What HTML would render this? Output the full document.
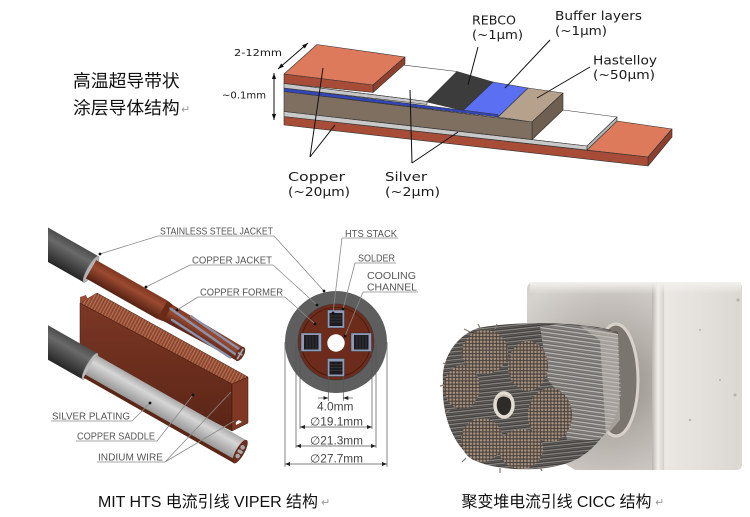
<!DOCTYPE html>
<html><head><meta charset="utf-8"><style>
html,body{margin:0;padding:0;background:#fff;}
svg{display:block}
</style></head><body>
<svg width="750" height="517" viewBox="0 0 750 517" xmlns="http://www.w3.org/2000/svg">
<defs>
 <marker id="ah" viewBox="0 0 10 10" refX="10" refY="5" markerWidth="5" markerHeight="5" orient="auto-start-reverse" markerUnits="userSpaceOnUse"><path d="M0,1 L10,5 L0,9z" fill="#222"/></marker>
 <marker id="ah2" viewBox="0 0 10 10" refX="10" refY="5" markerWidth="6" markerHeight="6" orient="auto-start-reverse" markerUnits="userSpaceOnUse"><path d="M0,1.5 L10,5 L0,8.5z" fill="#111"/></marker>
 <linearGradient id="jk" x1="0" y1="0" x2="0" y2="1"><stop offset="0" stop-color="#4c4c4c"/><stop offset="0.3" stop-color="#6a6a6a"/><stop offset="1" stop-color="#252525"/></linearGradient>
 <linearGradient id="cu" x1="0" y1="0" x2="0" y2="1"><stop offset="0" stop-color="#7e3620"/><stop offset="0.35" stop-color="#9a4a30"/><stop offset="1" stop-color="#552113"/></linearGradient>
 <linearGradient id="ag" x1="0" y1="0" x2="0" y2="1"><stop offset="0" stop-color="#a8a8a8"/><stop offset="0.3" stop-color="#d6d6d6"/><stop offset="1" stop-color="#8a8a8a"/></linearGradient>
 <linearGradient id="sf" x1="0" y1="0" x2="0" y2="1"><stop offset="0" stop-color="#7c3725"/><stop offset="1" stop-color="#5a2516"/></linearGradient>
 <pattern id="rib" width="3" height="3" patternUnits="userSpaceOnUse" patternTransform="rotate(28)"><rect width="3" height="3" fill="#8a4530"/><rect width="1.2" height="3" fill="#b5714f"/></pattern>
 <clipPath id="cl"><rect x="48" y="200" width="320" height="280"/></clipPath>
 <radialGradient id="endf" cx="610" cy="385" r="115" gradientUnits="userSpaceOnUse"><stop offset="0" stop-color="#8d8882"/><stop offset="0.45" stop-color="#b4afa9"/><stop offset="1" stop-color="#d6d2cd"/></radialGradient>
 <linearGradient id="sidef" x1="0" y1="0" x2="1" y2="0"><stop offset="0" stop-color="#d2cdc7"/><stop offset="0.12" stop-color="#ebe8e4"/><stop offset="1" stop-color="#dbd7d2"/></linearGradient>
 <linearGradient id="edg" x1="0" y1="0" x2="1" y2="0"><stop offset="0" stop-color="#b9b4ae"/><stop offset="0.5" stop-color="#f1eeea"/><stop offset="1" stop-color="#d3cfc9"/></linearGradient>
 <linearGradient id="topf" x1="0" y1="0" x2="0" y2="1"><stop offset="0" stop-color="#f3f1ee"/><stop offset="1" stop-color="#f3f1ee" stop-opacity="0"/></linearGradient>
 <pattern id="str" width="40" height="4" patternUnits="userSpaceOnUse" patternTransform="rotate(-6)"><rect width="40" height="4" fill="#3f3d3b"/><line x1="0" y1="1.2" x2="40" y2="1.2" stroke="#9c9894" stroke-width="1"/><line x1="0" y1="3" x2="40" y2="3" stroke="#6a6764" stroke-width="0.7"/></pattern>
 <pattern id="str2" width="40" height="4" patternUnits="userSpaceOnUse" patternTransform="rotate(8)"><rect width="40" height="4" fill="#6a6764"/><line x1="0" y1="1.2" x2="40" y2="1.2" stroke="#c9c5c0" stroke-width="1.1"/><line x1="0" y1="3" x2="40" y2="3" stroke="#8f8b87" stroke-width="0.7"/></pattern>
 <pattern id="dot" width="3.4" height="3.4" patternUnits="userSpaceOnUse"><rect width="3.4" height="3.4" fill="#4d4540"/><circle cx="1.7" cy="1.7" r="1.25" fill="#a8927f"/></pattern>
</defs>

<!-- ===== Top-left Chinese label ===== -->
<g font-family="'Liberation Sans','Noto Sans CJK SC',sans-serif" font-size="17.8" fill="#111">
 <text x="73" y="87">高温超导带状</text>
 <text x="73" y="114">涂层导体结构</text>
</g>
<text x="181" y="113" font-family="'DejaVu Sans',sans-serif" font-size="11" fill="#999">↵</text>

<!-- ===== Tape diagram ===== -->
<g stroke="#333" stroke-width="0.6" stroke-linejoin="round">
 <polygon points="587,150 648,157 672,129 617,121" fill="#dd7a5c"/>
 <polygon points="648,157 672,129 672,137 648,166" fill="#8e3f2e"/>
 <polygon points="284,116.5 648,157 648,166 284,125" fill="#a64c37"/>
 <polygon points="532,139.5 587,146 617,117 563,110" fill="#ffffff"/>
 <polygon points="587,146 617,117 617,121 587,150" fill="#b5b5b5"/>
 <polygon points="284,111.5 587,146 587,150 284,116.5" fill="#c9c9c9"/>
 <polygon points="498,117 532,122 563,93 528,88" fill="#b6a18d"/>
 <polygon points="532,122 563,93 563,110 532,139.5" fill="#6f5f50"/>
 <polygon points="284,91.5 532,122 532,139.5 284,111.5" fill="#7f6f60"/>
 <polygon points="463,110.5 498,117 528,88 493,82" fill="#5b6ff2"/>
 <polygon points="427,102 463,110.5 493,82 457,71.5" fill="#3c3c3c"/>
 <polygon points="284,88 498,114.5 498,117 284,91.5" fill="#3246b8"/>
 <polygon points="284,83.5 427,101.5 457,71.5 316,54.5" fill="#ffffff"/>
 <polygon points="284,83.5 427,101.5 427,104.5 284,88" fill="#c6c6c6"/>
 <polygon points="284,74 373,85 405,57 317,44.5" fill="#dd7a5c"/>
 <polygon points="373,85 405,57 405,64 373,92.5" fill="#8e3f2e"/>
 <polygon points="284,74 373,85 373,92.5 284,83.5" fill="#a64c37"/>
</g>
<g stroke="#111" stroke-width="1" fill="none">
 <path d="M310,157 L323,68 M310,157 L335,125"/>
 <path d="M412,163 L410,90 M412,163 L458,132"/>
 <path d="M478,47 L468,85"/>
 <path d="M550,40 L505,88"/>
 <path d="M590,67 L537,98"/>
 <line x1="308" y1="43" x2="278" y2="69" marker-start="url(#ah2)" marker-end="url(#ah2)"/>
 <line x1="274" y1="73" x2="274" y2="120" marker-start="url(#ah2)" marker-end="url(#ah2)"/>
</g>
<g font-family="'DejaVu Sans',sans-serif" fill="#1a1a1a" font-size="12.5">
 <text x="472" y="24.5" textLength="44" lengthAdjust="spacingAndGlyphs">REBCO</text>
 <text x="472" y="39" textLength="51" lengthAdjust="spacingAndGlyphs">(~1μm)</text>
 <text x="555" y="20" textLength="87" lengthAdjust="spacingAndGlyphs">Buffer layers</text>
 <text x="555" y="35" textLength="52" lengthAdjust="spacingAndGlyphs">(~1μm)</text>
 <text x="593" y="64.5" textLength="64" lengthAdjust="spacingAndGlyphs">Hastelloy</text>
 <text x="593" y="79" textLength="62" lengthAdjust="spacingAndGlyphs">(~50μm)</text>
 <text x="288" y="181" textLength="57" lengthAdjust="spacingAndGlyphs">Copper</text>
 <text x="288" y="196" textLength="62" lengthAdjust="spacingAndGlyphs">(~20μm)</text>
 <text x="385" y="181" textLength="42" lengthAdjust="spacingAndGlyphs">Silver</text>
 <text x="385" y="196" textLength="55" lengthAdjust="spacingAndGlyphs">(~2μm)</text>
 <text x="234" y="56" font-size="10" textLength="48" lengthAdjust="spacingAndGlyphs">2-12mm</text>
 <text x="222" y="98.5" font-size="10" textLength="44" lengthAdjust="spacingAndGlyphs">~0.1mm</text>
</g>

<!-- ===== VIPER ===== -->
<polygon points="80,303 232,384 232,431 80,351" fill="url(#sf)" stroke="#3a160c" stroke-width="0.5"/>
<polygon points="80,303 97,293 248,377 232,384" fill="url(#rib)" stroke="#3a160c" stroke-width="0.5"/>
<polygon points="232,384 248,377 248,423 232,431" fill="#7e3824" stroke="#3a160c" stroke-width="0.5"/>
<path d="M236,425 a3,3 0 0 1 6,-3" fill="#fff" stroke="#555" stroke-width="0.5"/>
<path d="M80,297 L86,295 L88,300 L93,297 L97,293 L80,303 Z" fill="#9a5038"/>

<g clip-path="url(#cl)">
 <g transform="translate(48,244.8) rotate(29.6)">
  <rect x="-40" y="-15" width="89.5" height="30" fill="url(#jk)"/>
  <ellipse cx="49.5" cy="0" rx="3.5" ry="15" fill="#b4b4b4" stroke="#8a8a8a" stroke-width="0.5"/>
  <polygon points="130,-9.5 221,-7.5 221,7.5 130,9.5" fill="url(#cu)"/>
  <rect x="49.5" y="-10.5" width="82" height="21" fill="url(#cu)"/>
  <polygon points="131.5,-10.5 138,-9.5 138,9.5 131.5,10.5" fill="#6a2a18"/>
  <g stroke="#8993ae" stroke-width="2.4" fill="none" stroke-linecap="round">
   <line x1="138" y1="-5" x2="221" y2="3"/>
   <line x1="145" y1="4" x2="214" y2="8"/>
   <line x1="160" y1="-8.5" x2="221" y2="-3.5"/>
  </g>
  <ellipse cx="221" cy="0" rx="3.5" ry="7.5" fill="#6e3020" stroke="#4a1c10" stroke-width="0.5"/>
  <path d="M221,-6 V6 M218.5,0 H223.5" stroke="#a9a9b5" stroke-width="1.6"/>
 </g>
 <g transform="translate(48,342.5) rotate(29.6)">
  <rect x="-40" y="-15" width="88.3" height="30" fill="url(#jk)"/>
  <ellipse cx="48.3" cy="0" rx="3.5" ry="15" fill="#bcbcbc" stroke="#8a8a8a" stroke-width="0.5"/>
  <rect x="48.3" y="-13" width="172.7" height="26" fill="url(#ag)"/>
  <rect x="48.3" y="9.5" width="172.7" height="3.5" fill="#5c2617"/>
  <ellipse cx="221" cy="0" rx="4" ry="13" fill="#6e2e1c" stroke="#4a1c10" stroke-width="0.5"/>
  <g fill="#a8a8b0"><circle cx="221" cy="-5" r="2.3"/><circle cx="221" cy="5" r="2.3"/><circle cx="220" cy="0" r="1.8"/><circle cx="222" cy="0" r="1.8"/></g>
 </g>
</g>

<!-- cross-section -->
<circle cx="336" cy="342" r="51" fill="#5e5e5e"/>
<circle cx="336" cy="342" r="38" fill="#6c2b1b" stroke="#3a3a3a" stroke-width="0.6"/>
<circle cx="336" cy="342" r="34.5" fill="none" stroke="#3a1509" stroke-width="0.6"/>
<circle cx="336" cy="343" r="8.7" fill="#fff"/>
<g stroke="#2a2a2a" stroke-width="0.4">
 <rect x="327.5" y="310" width="17" height="18" fill="#8d9bb8"/>
 <rect x="327.5" y="358.5" width="17" height="18" fill="#8d9bb8"/>
 <rect x="301" y="333" width="20.5" height="18.5" fill="#8d9bb8"/>
 <rect x="351" y="333" width="20.5" height="18.5" fill="#8d9bb8"/>
</g>
<g fill="#1c1c20">
 <rect x="329.5" y="313" width="13" height="13"/>
 <rect x="329.5" y="361.5" width="13" height="13"/>
 <rect x="304" y="335" width="14.5" height="14.5"/>
 <rect x="354" y="335" width="14.5" height="14.5"/>
</g>
<g stroke="#4a4a4a" stroke-width="0.5">
 <path d="M330,316 H342 M330,319 H342 M330,322 H342 M330,364.5 H342 M330,367.5 H342 M330,370.5 H342"/>
 <path d="M307,335.5 V349 M310,335.5 V349 M313,335.5 V349 M316,335.5 V349 M357,335.5 V349 M360,335.5 V349 M363,335.5 V349 M366,335.5 V349"/>
</g>

<g stroke="#555" stroke-width="0.7" fill="none">
 <path d="M285,342 V467 M387,342 V467 M296,345 V448 M376,345 V448 M300,350 V429 M372,350 V429 M328.3,376 V401 M343.3,376 V401"/>
 <line x1="318" y1="398" x2="328.3" y2="398" marker-end="url(#ah)"/>
 <line x1="353" y1="398" x2="343.3" y2="398" marker-end="url(#ah)"/>
 <line x1="300" y1="427" x2="372" y2="427" marker-start="url(#ah)" marker-end="url(#ah)"/>
 <line x1="296" y1="446" x2="376" y2="446" marker-start="url(#ah)" marker-end="url(#ah)"/>
 <line x1="285" y1="464" x2="387" y2="464" marker-start="url(#ah)" marker-end="url(#ah)"/>
</g>
<g font-family="'Liberation Sans','DejaVu Sans',sans-serif" fill="#444" font-size="11.5">
 <text x="317" y="410.5" textLength="36.5" lengthAdjust="spacingAndGlyphs">4.0mm</text>
 <text x="310" y="425.5" textLength="53" lengthAdjust="spacingAndGlyphs">∅19.1mm</text>
 <text x="310" y="444.5" textLength="53" lengthAdjust="spacingAndGlyphs">∅21.3mm</text>
 <text x="310" y="462.5" textLength="53" lengthAdjust="spacingAndGlyphs">∅27.7mm</text>
</g>

<g stroke="#8a8a8a" stroke-width="0.8" fill="none">
 <path d="M158,236 H274 M158,236 L100,254 M274,236 L324,291"/>
 <path d="M190,265 H273 M190,265 L146,287 M273,265 L317,305"/>
 <path d="M198,297 H285 M198,297 L177,310 M285,297 L315,324"/>
 <path d="M342,238 H398 M342,238 L333,313"/>
 <path d="M355,263 H396 M355,263 L343,309"/>
 <path d="M363,292 H418 M363,292 L345,336"/>
 <path d="M51,421 H132 L150,403"/>
 <path d="M76,441 H157 L193,395"/>
 <path d="M97,462 H165 L231,392 M165,462 L234,421"/>
</g>
<g fill="#111">
 <circle cx="100" cy="254" r="1.4"/><circle cx="324" cy="291" r="1.4"/>
 <circle cx="146" cy="287" r="1.4"/><circle cx="317" cy="305" r="1.4"/>
 <circle cx="177" cy="310" r="1.4"/><circle cx="315" cy="324" r="1.4"/>
 <circle cx="333" cy="313" r="1.4"/><circle cx="343" cy="309" r="1.4"/>
 <circle cx="345" cy="336" r="1.4"/><circle cx="150" cy="403" r="1.4"/>
 <circle cx="193" cy="395" r="1.4"/>
</g>
<g font-family="'Liberation Sans',sans-serif" fill="#555" font-size="10">
 <text x="160" y="234.5" textLength="113" lengthAdjust="spacingAndGlyphs">STAINLESS STEEL JACKET</text>
 <text x="192" y="263.5" textLength="80" lengthAdjust="spacingAndGlyphs">COPPER JACKET</text>
 <text x="200" y="295.5" textLength="83" lengthAdjust="spacingAndGlyphs">COPPER FORMER</text>
 <text x="345" y="237" textLength="52" lengthAdjust="spacingAndGlyphs">HTS STACK</text>
 <text x="358" y="261.5" textLength="37" lengthAdjust="spacingAndGlyphs">SOLDER</text>
 <text x="367" y="279" textLength="49" lengthAdjust="spacingAndGlyphs">COOLING</text>
 <text x="367" y="290.5" textLength="50" lengthAdjust="spacingAndGlyphs">CHANNEL</text>
 <text x="52" y="419.5" textLength="78" lengthAdjust="spacingAndGlyphs">SILVER PLATING</text>
 <text x="77" y="439.5" textLength="78" lengthAdjust="spacingAndGlyphs">COPPER SADDLE</text>
 <text x="98" y="460.5" textLength="65" lengthAdjust="spacingAndGlyphs">INDIUM WIRE</text>
</g>

<!-- ===== CICC photo ===== -->
<path d="M655,282 H736 Q742,282 742,288 V464 Q742,470 736,470 H655 Z" fill="url(#sidef)"/>
<path d="M534,282 H660 V470 H575 L527,440 V290 Q527,282 534,282 Z" fill="url(#endf)"/>
<rect x="652" y="283" width="12" height="187" fill="url(#edg)"/>
<rect x="530" y="282" width="211" height="12" fill="url(#topf)"/>
<g fill="#9a958f" opacity="0.6"><circle cx="700" cy="330" r="1"/><circle cx="720" cy="380" r="1"/><circle cx="690" cy="420" r="1.2"/><circle cx="738" cy="300" r="1.5"/><circle cx="735" cy="395" r="1.5"/></g>
<ellipse cx="616" cy="380" rx="22" ry="56" fill="#7a756f" stroke="#d8d2ca" stroke-width="3"/>
<!-- bundle base -->
<path d="M618,332 C590,322 520,320 478,328 C455,336 441,360 443,382 C441,412 452,448 478,462 C505,472 550,472 575,460 C600,448 615,420 620,395 Z" fill="url(#str)"/>
<!-- gray strand regions -->
<path d="M540,326 C570,323 600,326 618,334 L621,395 C616,420 608,434 598,440 L567,440 L560,395 L548,380 Z" fill="url(#str2)"/>
<path d="M580,326 L618,334 L620,420 L606,436 L600,340 Z" fill="#c8c3bc" opacity="0.55"/>
<!-- bronze clusters -->
<g fill="url(#dot)">
 <ellipse cx="485" cy="352" rx="23" ry="22"/>
 <ellipse cx="462" cy="387" rx="18" ry="22"/>
 <ellipse cx="528" cy="366" rx="20" ry="25"/>
 <ellipse cx="550" cy="415" rx="22" ry="27"/>
 <ellipse cx="482" cy="440" rx="21" ry="22"/>
 <ellipse cx="521" cy="449" rx="22" ry="20"/>
</g>
<path d="M470,332 l-6,-3 M480,328 l-2,-4 M495,329 l2,-5 M448,365 l-5,-2 M444,385 l-4,1 M450,410 l-5,3 M466,458 l-4,4 M500,468 l0,5 M540,467 l2,4" stroke="#8a7a6c" stroke-width="1.2"/>
<!-- white tube -->
<ellipse cx="504" cy="405" rx="9" ry="12" fill="#2e2b28" stroke="#e3ddd2" stroke-width="3.5"/>
<path d="M496,400 q6,-8 14,-2" fill="none" stroke="#cfc8bb" stroke-width="2"/>

<!-- ===== captions ===== -->
<g font-family="'Liberation Sans','Noto Sans CJK SC',sans-serif" font-size="16" fill="#111">
 <text x="98" y="507" textLength="220" lengthAdjust="spacing">MIT HTS 电流引线 VIPER 结构</text>
 <text x="461.5" y="507" textLength="190" lengthAdjust="spacing">聚变堆电流引线 CICC 结构</text>
</g>
<g font-family="'DejaVu Sans',sans-serif" font-size="11" fill="#999">
 <text x="321" y="506">↵</text>
 <text x="655" y="506">↵</text>
</g>
</svg>
</body></html>
